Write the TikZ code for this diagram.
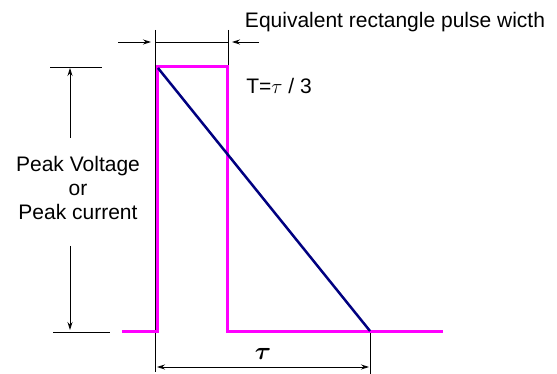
\documentclass[tikz,border=0pt]{standalone}
\usepackage{amsmath,amssymb}
\usepackage{fontspec}
\setmainfont{Liberation Sans}
\usetikzlibrary{arrows.meta}
\definecolor{rampblue}{RGB}{0,0,128}
\definecolor{pulsepink}{RGB}{255,0,255}

\begin{document}
\begin{tikzpicture}[x=1pt, y=-1pt, every node/.style={font=\fontsize{21}{24}\selectfont},
  pulse/.style={draw=pulsepink, line width=3pt, line join=miter},
  ramp/.style={draw=rampblue, line width=2.5pt},
  dim/.style={draw=black, line width=0.8pt},
  arr/.style={-{Stealth[length=8pt, width=5pt]}, line width=0.8pt}]
\useasboundingbox (0,0) rectangle (557,374);
% pulse corners
\coordinate (b0) at (122,331);
\coordinate (p0) at (157,331);
\coordinate (p1) at (157,67);
\coordinate (p2) at (227,67);
\coordinate (p3) at (227,331);
\coordinate (b1) at (443,331);
\coordinate (rs) at (158,68);
\coordinate (re) at (370,331);
% extension lines
\coordinate (e0t) at (155,30);
\coordinate (e0b) at (155,372);
\coordinate (e1t) at (228,30);
\coordinate (e1b) at (228,67);
\coordinate (e2t) at (370,331);
\coordinate (e2b) at (370,374);
\draw[dim] (e0t) -- (e0b);
\draw[dim] (e1t) -- (e1b);
\draw[dim] (e2t) -- (e2b);
% width of equivalent rectangle
\coordinate (wl) at (155,42);
\coordinate (wr) at (228,42);
\coordinate (wla) at (118,42);
\coordinate (wra) at (259,42);
\draw[dim] (wl) -- (wr);
\draw[arr] (wla) -- (151,42);
\draw[arr] (wra) -- (232,42);
% duration tau
\coordinate (tl) at (157,367);
\coordinate (tr) at (369,367);
\draw[arr, {Stealth[length=8pt, width=5pt]}-{Stealth[length=8pt, width=5pt]}] (tl) -- (tr);
% peak height
\coordinate (ht0) at (50,67);
\coordinate (ht1) at (102,67);
\coordinate (hb0) at (53,332);
\coordinate (hb1) at (110,332);
\draw[dim] (ht0) -- (ht1);
\draw[dim] (hb0) -- (hb1);
\coordinate (au0) at (70,138);
\coordinate (au1) at (70,68);
\coordinate (ad0) at (70,246);
\coordinate (ad1) at (70,330);
\draw[arr] (au0) -- (au1);
\draw[arr] (ad0) -- (ad1);
% the pulses
\draw[pulse] (b0) -- (p0) -- (p1) -- (p2) -- (p3) -- (b1);
\draw[ramp] (rs) -- (re);
% labels
\node (eq) at (395,22) {Equivalent rectangle pulse wicth};
\node (tt) at (279,86) {T=$\tau$ / 3};
\node[align=center] (pk) at (78,188) {Peak Voltage\\or\\Peak current};
\node (tau) at (263,354) {\fontsize{25}{28}\selectfont$\boldsymbol{\tau}$};
\end{tikzpicture}
\end{document}
